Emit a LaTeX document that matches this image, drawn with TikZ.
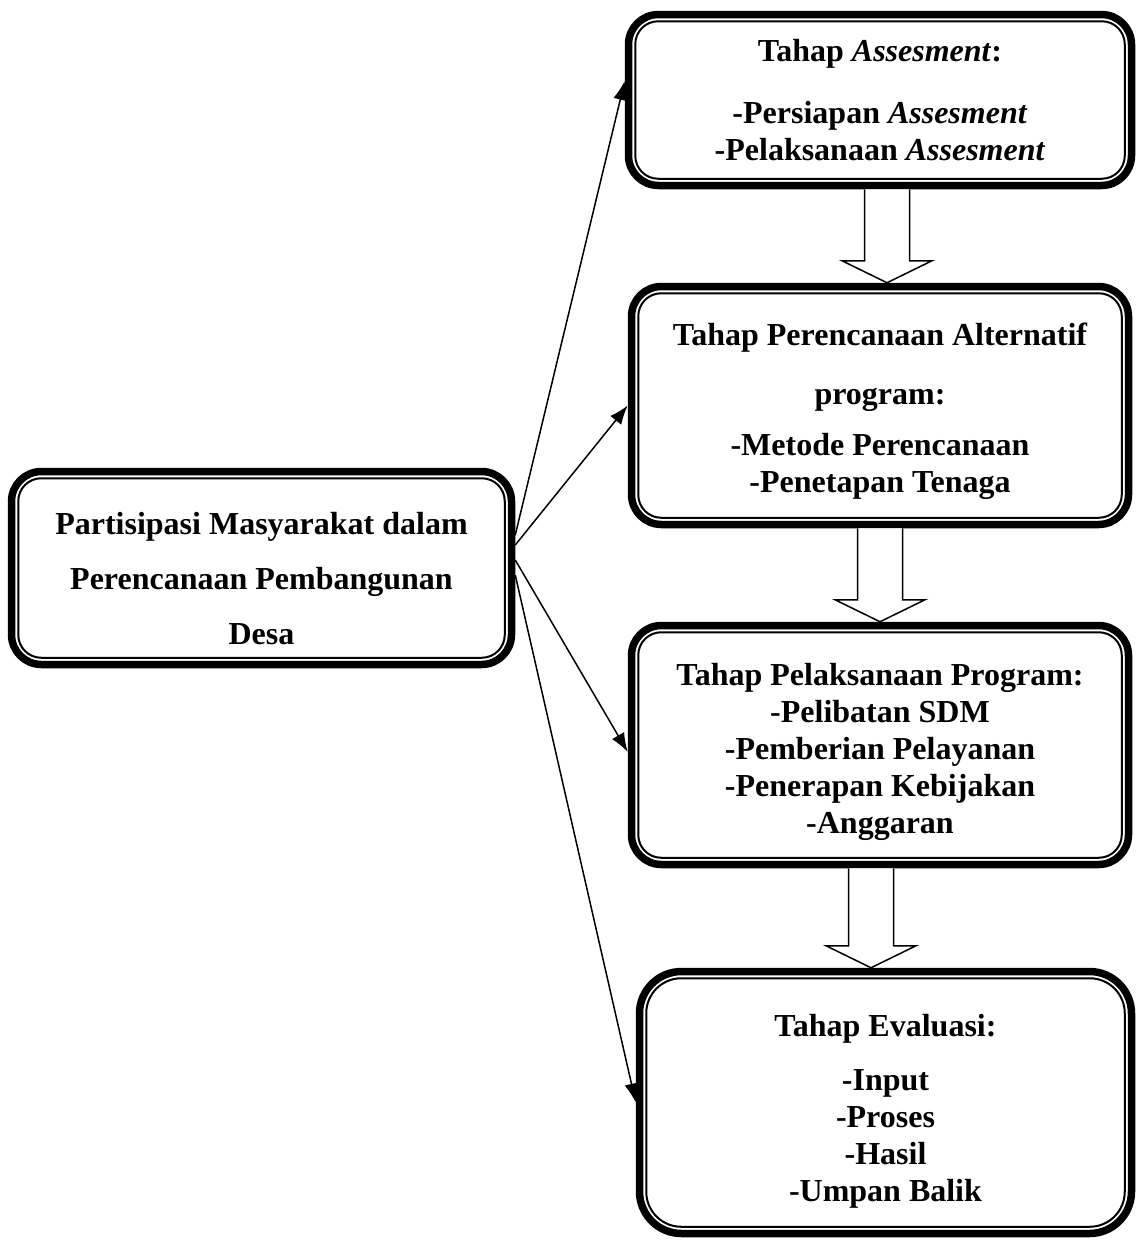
\documentclass[tikz,border=0pt]{standalone}
\usepackage{fontspec}
\setmainfont{Liberation Serif}
\usetikzlibrary{calc,arrows.meta}
\tikzset{
  boxstyle/.style={draw, line width=7.5pt, rounded corners=30pt, inner sep=0pt, outer sep=3.75pt,
    align=center, fill=white, font=\fontsize{32}{37}\selectfont\bfseries},
  innerline/.style={line width=2pt, rounded corners=23pt},
  conn/.style={line width=1.5pt, -{Latex[length=19pt,width=14pt]}},
  blockarr/.style={draw, fill=white, line width=1.5pt, line join=miter},
}
\newcommand{\innerborder}[1]{%
  \draw[innerline] ([xshift=10.5pt,yshift=-10.5pt]#1.north west) rectangle ([xshift=-10.5pt,yshift=10.5pt]#1.south east);}
\begin{document}
\begin{tikzpicture}[x=1pt,y=-1pt]
\useasboundingbox[fill=white] (0,0) rectangle (1137,1240);

\node[boxstyle, minimum width=500pt, minimum height=193pt] (b0) at (261.5,568)
  {\rule{0pt}{44pt}Partisipasi Masyarakat dalam\\[18pt] Perencanaan Pembangunan\\[18pt] Desa};
\node[boxstyle, minimum width=503pt, minimum height=171pt] (b1) at (880,100)
  {Tahap \textit{Assesment}:\\[25pt] -Persiapan \textit{Assesment}\\ -Pelaksanaan \textit{Assesment}};
\node[boxstyle, minimum width=497pt, minimum height=238pt] (b2) at (880,405.5)
  {\rule{0pt}{34pt}Tahap Perencanaan Alternatif\\[22pt] program:\\[14pt] -Metode Perencanaan\\ -Penetapan Tenaga};
\node[boxstyle, minimum width=497pt, minimum height=239pt] (b3) at (880,745)
  {\rule{0pt}{36pt}Tahap Pelaksanaan Program:\\ -Pelibatan SDM\\ -Pemberian Pelayanan\\ -Penerapan Kebijakan\\ -Anggaran};
\node[boxstyle, rounded corners=42pt, minimum width=492pt, minimum height=262pt] (b4) at (885.5,1102.5)
  {\rule{0pt}{40pt}Tahap Evaluasi:\\[17pt] -Input\\ -Proses\\ -Hasil\\ -Umpan Balik};

\innerborder{b0}
\innerborder{b1}
\innerborder{b2}
\innerborder{b3}
\draw[innerline, rounded corners=35pt] ([xshift=10.5pt,yshift=-10.5pt]b4.north west) rectangle ([xshift=-10.5pt,yshift=10.5pt]b4.south east);

% block arrows
\coordinate (a1s) at ([xshift=7pt]b1.south);
\coordinate (a1t) at (a1s |- b2.north);
\draw[blockarr] ([xshift=-22.5pt]a1s) -- ([xshift=-22.5pt,yshift=22pt]a1t) -- ([xshift=-45pt,yshift=22pt]a1t) -- (a1t) -- ([xshift=45pt,yshift=22pt]a1t) -- ([xshift=22.5pt,yshift=22pt]a1t) -- ([xshift=22.5pt]a1s);
\coordinate (a2s) at ([xshift=0pt]b2.south);
\coordinate (a2t) at (a2s |- b3.north);
\draw[blockarr] ([xshift=-22.5pt]a2s) -- ([xshift=-22.5pt,yshift=22pt]a2t) -- ([xshift=-45pt,yshift=22pt]a2t) -- (a2t) -- ([xshift=45pt,yshift=22pt]a2t) -- ([xshift=22.5pt,yshift=22pt]a2t) -- ([xshift=22.5pt]a2s);
\coordinate (a3s) at ([xshift=-9pt]b3.south);
\coordinate (a3t) at (a3s |- b4.north);
\draw[blockarr] ([xshift=-22.5pt]a3s) -- ([xshift=-22.5pt,yshift=22pt]a3t) -- ([xshift=-45pt,yshift=22pt]a3t) -- (a3t) -- ([xshift=45pt,yshift=22pt]a3t) -- ([xshift=22.5pt,yshift=22pt]a3t) -- ([xshift=22.5pt]a3s);

% connectors
\draw[conn] ([yshift=33pt]b0.east) -- ([yshift=19pt]b1.west);
\draw[conn] ([yshift=23pt]b0.east) -- (b2.west);
\draw[conn] ([yshift=8pt]b0.east) -- ([yshift=-7pt]b3.west);
\draw[conn] ([yshift=-7pt]b0.east) -- (b4.west);
\end{tikzpicture}
\end{document}
